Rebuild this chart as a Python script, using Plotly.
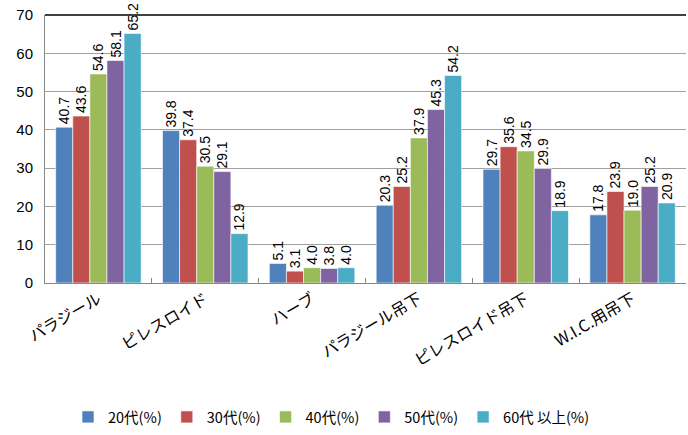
import plotly.graph_objects as go

categories = ["パラジール", "ピレスロイド", "ハーブ", "パラジール吊下", "ピレスロイド吊下", "W.I.C.用吊下"]
series_names = ["20代(%)", "30代(%)", "40代(%)", "50代(%)", "60代 以上(%)"]
v20 = [40.7, 39.8, 5.1, 20.3, 29.7, 17.8]
v30 = [43.6, 37.4, 3.1, 25.2, 35.6, 23.9]
v40 = [54.6, 30.5, 4.0, 37.9, 34.5, 19.0]
v50 = [58.1, 29.1, 3.8, 45.3, 29.9, 25.2]
v60 = [65.2, 12.9, 4.0, 54.2, 18.9, 20.9]
colors = ["#4F81BD", "#C0504D", "#9BBB59", "#8064A2", "#4BACC6"]
yticks = [0, 10, 20, 30, 40, 50, 60, 70]

FONT = "Arial, 'Liberation Sans', 'Noto Sans CJK JP', sans-serif"
JFONT = "'Noto Sans CJK JP', Arial, sans-serif"

fig = go.Figure()
for name, vals, col in zip(series_names, [v20, v30, v40, v50, v60], colors):
    fig.add_trace(go.Bar(
        x=categories, y=vals, name=name,
        marker=dict(color=col, line=dict(color="rgba(255,255,255,0.6)", width=1)),
        text=[f"{v:.1f}" for v in vals],
        textposition="outside", textangle=-90, constraintext="none",
        textfont=dict(family=FONT, size=14, color="#000000"),
        cliponaxis=False,
    ))

fig.update_layout(
    width=688, height=435,
    barmode="group", bargap=0.2, bargroupgap=0,
    plot_bgcolor="white", paper_bgcolor="white",
    margin=dict(l=45, r=2, t=15, b=152, autoexpand=False),
    font=dict(family=FONT, size=14, color="#000000"),
    legend=dict(
        orientation="h", x=0.447, xanchor="center", y=-0.5, yanchor="middle",
        font=dict(family=JFONT, size=14.5),
        traceorder="normal", itemwidth=30,
    ),
    xaxis=dict(
        tickangle=-30, showline=True, linecolor="#868686", linewidth=1,
        ticks="inside", tickson="boundaries", ticklen=5, tickcolor="#868686",
        tickfont=dict(family=JFONT, size=16),
        showgrid=False, automargin=False,
    ),
    yaxis=dict(
        range=[0, 70], tickvals=yticks, showgrid=True, gridcolor="#A0A0A0", gridwidth=1,
        showline=True, linecolor="#868686", linewidth=1, zeroline=False,
        ticklabelstandoff=8, tickfont=dict(size=15), automargin=False,
    ),
    shapes=[dict(type="line", xref="paper", yref="paper", x0=0, x1=1, y0=1, y1=1,
                 line=dict(color="#404040", width=2))],
)

fig.write_html("out.html", config={"displayModeBar": False},
               post_script="document.body.style.margin='0';document.body.style.overflow='hidden';")
